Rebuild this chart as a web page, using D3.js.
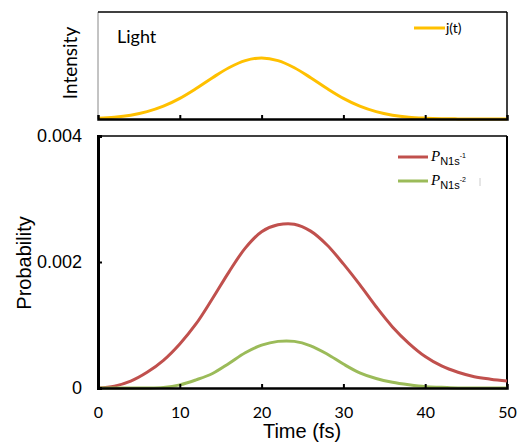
<!DOCTYPE html>
<html>
<head>
<meta charset="utf-8">
<script src="https://cdn.jsdelivr.net/npm/d3@7"></script>
<style>
  body { margin: 0; background: #fff; }
  svg { display: block; }
</style>
</head>
<body>
<svg id="chart"></svg>
<script>
// ########## Data ##########
var time = [0, 2, 4, 6, 8, 10, 12, 14, 16, 18, 20, 22, 24, 26, 28, 30, 32, 34, 36, 38, 40, 42, 44, 46, 48, 50];

// light intensity j(t), arbitrary units
var intensity = [0.008, 0.017, 0.036, 0.069, 0.120, 0.193, 0.285, 0.386, 0.479, 0.546, 0.570,
                 0.546, 0.479, 0.386, 0.285, 0.193, 0.120, 0.069, 0.036, 0.017, 0.008,
                 0.003, 0.001, 0, 0, 0];

// probabilities
var pN1s1 = [0, 0.00003, 0.00011, 0.00025, 0.00044, 0.00070, 0.00102, 0.00142, 0.00184, 0.00222,
             0.00248, 0.00259, 0.00260, 0.00249, 0.00227, 0.00197, 0.00164, 0.00129, 0.00097,
             0.00071, 0.00050, 0.00035, 0.00025, 0.00018, 0.00014, 0.00011];
var pN1s2 = [0, 0, 0, 0, 0.00001, 0.00005, 0.00013, 0.00023, 0.00039, 0.00056, 0.00068, 0.00074,
             0.00074, 0.00067, 0.00054, 0.00038, 0.00024, 0.00015, 0.00009, 0.00005, 0.00002,
             0.00001, 0, 0, 0, 0];

var xTicks = [0, 10, 20, 30, 40, 50];
var yTicks = [0, 0.002, 0.004];
var yTickLabels = ["0", "0.002", "0.004"];

var w = 522, h = 446;

var svg = d3.select("#chart").attr("width", w).attr("height", h);

// ########## Scales ##########
var x = d3.scaleLinear().domain([0, 50]).range([98, 507]);
var yTop = d3.scaleLinear().domain([0, 1]).range([119, 12]);
var yBot = d3.scaleLinear().domain([0, 0.004]).range([388, 136]);

var labelFont = "Liberation Sans, Arial, sans-serif";
var tickFont = "Lato, Open Sans, sans-serif";

// ########## Top panel (light) ##########
svg.append("line").attr("x1", 98).attr("x2", 98).attr("y1", 12).attr("y2", 119)
    .attr("stroke", "#888").attr("stroke-width", 1);
svg.append("line").attr("x1", 98).attr("x2", 507).attr("y1", 12).attr("y2", 12)
    .attr("stroke", "#000").attr("stroke-width", 1.5);
svg.append("line").attr("x1", 507).attr("x2", 507).attr("y1", 12).attr("y2", 119)
    .attr("stroke", "#000").attr("stroke-width", 1.5);

var lineTop = d3.line()
    .x(function (d, i) { return x(time[i]); })
    .y(function (d) { return yTop(d); })
    .curve(d3.curveCatmullRom);

svg.append("path").datum(intensity)
    .attr("d", lineTop)
    .attr("fill", "none")
    .attr("stroke", "#ffc000")
    .attr("stroke-width", 3);

var topAxis = svg.append("g").attr("transform", "translate(0,119)")
    .call(d3.axisBottom(x).tickValues(xTicks.slice(1, 5)).tickSize(-4).tickFormat(""));
topAxis.select(".domain").attr("stroke", "#000").attr("stroke-width", 2.5);
topAxis.selectAll(".tick line").attr("stroke", "#000").attr("stroke-width", 2);

svg.append("text").attr("x", 117).attr("y", 43)
    .attr("font-family", tickFont).attr("font-size", 18).attr("fill", "#000")
    .text("Light");

svg.append("line").attr("x1", 414).attr("x2", 445).attr("y1", 28).attr("y2", 28)
    .attr("stroke", "#ffc000").attr("stroke-width", 3);
svg.append("text").attr("x", 446).attr("y", 33)
    .attr("font-family", tickFont).attr("font-size", 14).attr("fill", "#000")
    .text("j(t)");

svg.append("text")
    .attr("transform", "translate(77,63) rotate(-90)")
    .attr("text-anchor", "middle")
    .attr("font-family", tickFont).attr("font-size", 19).attr("fill", "#000")
    .text("Intensity");

// ########## Bottom panel (probability) ##########
svg.append("line").attr("x1", 98).attr("x2", 507).attr("y1", 136).attr("y2", 136)
    .attr("stroke", "#000").attr("stroke-width", 1.5);
svg.append("line").attr("x1", 507).attr("x2", 507).attr("y1", 136).attr("y2", 388)
    .attr("stroke", "#000").attr("stroke-width", 2);

var lineBot = d3.line()
    .x(function (d, i) { return x(time[i]); })
    .y(function (d) { return yBot(Math.max(d, 0)); })
    .curve(d3.curveCatmullRom);

svg.append("path").datum(pN1s1)
    .attr("d", lineBot)
    .attr("fill", "none")
    .attr("stroke", "#c0504d")
    .attr("stroke-width", 3);

svg.append("path").datum(pN1s2)
    .attr("d", lineBot)
    .attr("fill", "none")
    .attr("stroke", "#9bbb59")
    .attr("stroke-width", 3);

var xAxis = svg.append("g").attr("transform", "translate(0,388)")
    .call(d3.axisBottom(x).tickValues(xTicks).tickSize(-4).tickPadding(19));
xAxis.select(".domain").attr("stroke", "#000").attr("stroke-width", 2.5);
xAxis.selectAll(".tick line").attr("stroke", "#000").attr("stroke-width", 2)
    .attr("display", function (d) { return (d === 0 || d === 50) ? "none" : null; });
xAxis.selectAll(".tick text")
    .attr("font-family", tickFont).attr("font-size", 16).attr("fill", "#000");

var yAxis = svg.append("g").attr("transform", "translate(98,0)")
    .call(d3.axisLeft(yBot).tickValues(yTicks).tickSize(-4).tickPadding(16)
        .tickFormat(function (d, i) { return yTickLabels[i]; }));
yAxis.select(".domain").attr("stroke", "#000").attr("stroke-width", 3);
yAxis.selectAll(".tick line").attr("stroke", "#000").attr("stroke-width", 2)
    .attr("display", function (d) { return d === 0.002 ? null : "none"; });
yAxis.selectAll(".tick text")
    .attr("font-family", labelFont).attr("font-size", 18).attr("fill", "#000");

svg.append("text")
    .attr("transform", "translate(31,263) rotate(-90)")
    .attr("text-anchor", "middle")
    .attr("font-family", labelFont).attr("font-size", 20).attr("fill", "#000")
    .text("Probability");

svg.append("text")
    .attr("x", 302).attr("y", 438)
    .attr("text-anchor", "middle")
    .attr("font-family", labelFont).attr("font-size", 20).attr("fill", "#000")
    .text("Time (fs)");

// ########## Legend ##########
var legend = [
    { color: "#c0504d", sup: "-1", y: 157 },
    { color: "#9bbb59", sup: "-2", y: 181 }
];

legend.forEach(function (d) {
    svg.append("line").attr("x1", 398).attr("x2", 428).attr("y1", d.y).attr("y2", d.y)
        .attr("stroke", d.color).attr("stroke-width", 3);
    var t = svg.append("text").attr("x", 431).attr("y", d.y + 4)
        .attr("fill", "#000");
    t.append("tspan").attr("font-family", "Liberation Serif, Times New Roman, serif")
        .attr("font-style", "italic").attr("font-size", 15).text("P");
    t.append("tspan").attr("font-family", labelFont).attr("font-size", 11)
        .attr("dy", 4).text("N1s");
    t.append("tspan").attr("font-family", labelFont).attr("font-size", 7)
        .attr("dy", -7).text(d.sup);
});

// faint stray mark next to the legend
svg.append("line").attr("x1", 480).attr("x2", 480).attr("y1", 178).attr("y2", 186)
    .attr("stroke", "#ccc").attr("stroke-width", 1);
</script>
</body>
</html>
